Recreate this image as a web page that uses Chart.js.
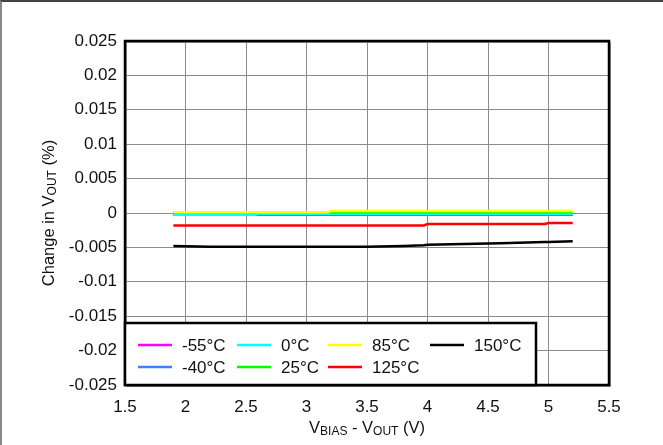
<!DOCTYPE html>
<html lang="en">
<head>
  <meta charset="UTF-8">
  <title>Change in VOUT vs VBIAS - VOUT</title>
  <script src="https://cdn.jsdelivr.net/npm/chart.js@4.4.1/dist/chart.umd.min.js"></script>
  <style>
    body { margin: 0; background: #fff; }
    #wrap {
      width: 663px; height: 445px; position: relative; box-sizing: border-box;
      border-top: 2px solid #444; border-left: 2px solid #888;
    }
  </style>
</head>
<body>
  <div id="wrap"><canvas id="chart"></canvas></div>

  <script>
    // data
    const vbias = [1.9, 2.2, 2.58, 2.6, 2.9, 3.18, 3.2, 3.5, 3.8, 3.97, 4.0, 4.3, 4.6, 4.97, 5.0, 5.2];
    const tempLabels = ["-55°C", "-40°C", "0°C", "25°C", "85°C", "125°C", "150°C"];
    const tempColors = ["#ff00ff", "#3f7fff", "#00ffff", "#00ff00", "#ffff00", "#ff0000", "#000000"];
    const m55  = [-0.00025, -0.00025, -0.00025, -0.00025, -0.00025, -0.00025, -0.00025, -0.00025, -0.00025, -0.00025, -0.00025, -0.00025, -0.00025, -0.00025, -0.00025, -0.00025];
    const m40  = [-0.00025, -0.00025, -0.00025, -0.00025, -0.00025, -0.00025, -0.00025, -0.00025, -0.00025, -0.00025, -0.00025, -0.00025, -0.00025, -0.00025, -0.00025, -0.00025];
    const t0   = [-0.00025, -0.00025, -0.00025, -0.0001, -0.0001, -0.0001, -0.0001, -0.0001, -0.0001, -0.0001, -0.0001, -0.0001, -0.0001, -0.0001, -0.0001, -0.0001];
    const t25  = [0.0001, 0.0001, 0.0001, 0.0001, 0.0001, 0.0001, 0.0001, 0.0001, 0.0001, 0.0001, 0.0001, 0.0001, 0.0001, 0.0001, 0.0001, 0.0001];
    const t85  = [0.0001, 0.0001, 0.0001, 0.0001, 0.0001, 0.0001, 0.0003, 0.0003, 0.0003, 0.0003, 0.0003, 0.0003, 0.0003, 0.0003, 0.0003, 0.0003];
    const t125 = [-0.0018, -0.0018, -0.0018, -0.0018, -0.0018, -0.0018, -0.0018, -0.0018, -0.0018, -0.0018, -0.0016, -0.0016, -0.0016, -0.0016, -0.00145, -0.00145];
    const t150 = [-0.0048, -0.0049, -0.0049, -0.0049, -0.0049, -0.0049, -0.0049, -0.0049, -0.0048, -0.0047, -0.0046, -0.0045, -0.0044, -0.0042, -0.0042, -0.0041];
    const seriesValues = [m55, m40, t0, t25, t85, t125, t150];

    const FONT = "'Liberation Sans', Arial, sans-serif";
    const TEXT = "#111";

    function drawSub(ctx, parts, x, y) {
      // parts: [text, isSub], drawn centred on x
      let total = 0;
      parts.forEach(p => {
        ctx.font = (p[1] ? 12 : 16.5) + "px " + FONT;
        total += ctx.measureText(p[0]).width;
      });
      let cx = x - total / 2;
      ctx.textAlign = "left";
      ctx.textBaseline = "alphabetic";
      parts.forEach(p => {
        ctx.font = (p[1] ? 12 : 16.5) + "px " + FONT;
        ctx.fillText(p[0], cx, y + (p[1] ? 2 : 0));
        cx += ctx.measureText(p[0]).width;
      });
    }

    const decorPlugin = {
      id: "decor",
      afterDraw(chart) {
        const ctx = chart.ctx;
        const ca = chart.chartArea;
        ctx.save();

        // plot frame
        ctx.strokeStyle = "#999";
        ctx.lineWidth = 1;
        ctx.strokeRect(ca.left + 1.5, ca.top + 1.5, ca.right - ca.left, ca.bottom - ca.top);
        ctx.strokeStyle = "#000";
        ctx.lineWidth = 2.5;
        ctx.strokeRect(ca.left, ca.top, ca.right - ca.left, ca.bottom - ca.top);

        // legend box
        const lx = ca.left, lw = 411, lh = 62, ly = ca.bottom - lh;
        ctx.fillStyle = "#fff";
        ctx.fillRect(lx, ly, lw, lh);
        ctx.strokeStyle = "#000";
        ctx.lineWidth = 2.5;
        ctx.strokeRect(lx, ly, lw, lh);

        const cols = [13, 112, 203, 305];
        const rows = [22, 44];
        ctx.font = "17px " + FONT;
        ctx.textBaseline = "middle";
        ctx.textAlign = "left";
        tempLabels.forEach((lab, i) => {
          const c = Math.floor(i / 2), r = i % 2;
          const x0 = lx + cols[c], y0 = ly + rows[r];
          ctx.strokeStyle = tempColors[i];
          ctx.lineWidth = 2.5;
          ctx.beginPath();
          ctx.moveTo(x0, y0);
          ctx.lineTo(x0 + 34, y0);
          ctx.stroke();
          ctx.fillStyle = TEXT;
          ctx.fillText(lab, x0 + 44, y0 + 1);
        });

        // axis titles with subscripts
        ctx.fillStyle = TEXT;
        drawSub(ctx, [["V", false], ["BIAS", true], [" - V", false], ["OUT", true], [" (V)", false]],
          (ca.left + ca.right) / 2, 431);

        ctx.translate(52, (ca.top + ca.bottom) / 2);
        ctx.rotate(-Math.PI / 2);
        drawSub(ctx, [["Change in V", false], ["OUT", true], [" (%)", false]], 0, 0);
        ctx.restore();
      }
    };

    // later series drawn on top (Chart.js puts lower `order` on top)
    const datasets = seriesValues.map((vals, i) => ({
      label: tempLabels[i],
      data: vals.map((v, j) => ({ x: vbias[j], y: v })),
      borderColor: tempColors[i],
      borderWidth: 2.5,
      order: seriesValues.length - i,
      pointRadius: 0,
      tension: 0,
      fill: false
    }));

    new Chart(document.getElementById("chart"), {
      type: "line",
      data: { datasets: datasets },
      plugins: [decorPlugin],
      options: {
        responsive: true,
        maintainAspectRatio: false,
        animation: false,
        layout: { padding: { top: 39, right: 54, left: 0, bottom: 0 } },
        plugins: { legend: { display: false }, tooltip: { enabled: false } },
        scales: {
          x: {
            type: "linear",
            min: 1.5,
            max: 5.5,
            ticks: {
              stepSize: 0.5,
              color: TEXT,
              font: { family: FONT, size: 17 },
              padding: 12,
              callback: v => v.toString()
            },
            grid: { color: "#8c8c8c", lineWidth: 1, drawTicks: false },
            border: { display: false },
            afterFit: s => { s.height = 60; }
          },
          y: {
            min: -0.025,
            max: 0.025,
            ticks: {
              stepSize: 0.005,
              color: TEXT,
              font: { family: FONT, size: 17 },
              padding: 8,
              callback: v => parseFloat(v.toFixed(3)).toString()
            },
            grid: { color: "#8c8c8c", lineWidth: 1, drawTicks: false },
            border: { display: false },
            afterFit: s => { s.width = 123; }
          }
        }
      }
    });
  </script>
</body>
</html>
